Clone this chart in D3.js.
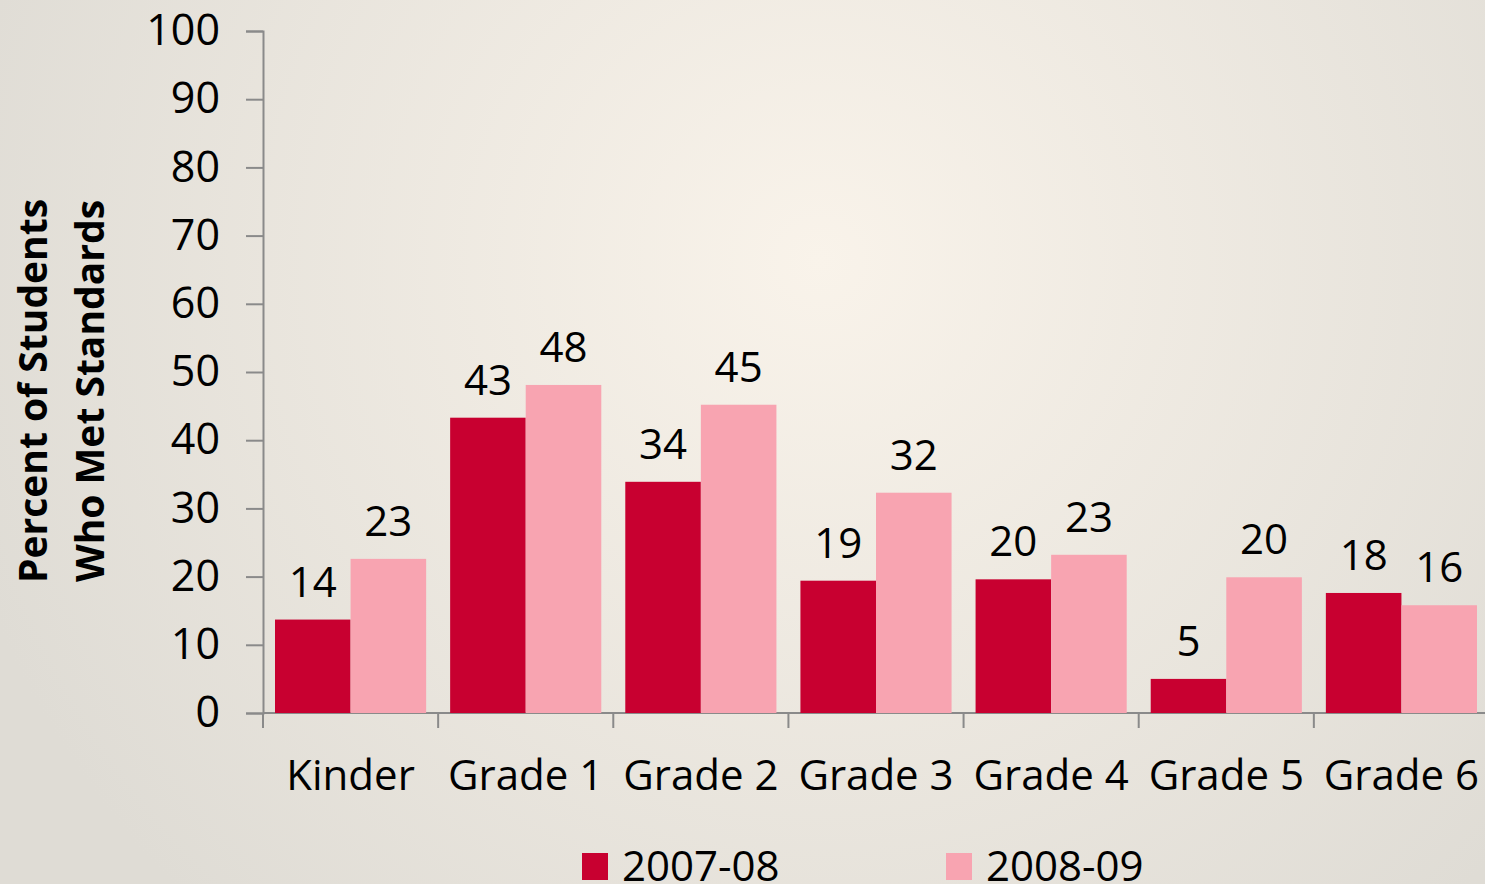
<!DOCTYPE html>
<html><head><meta charset="utf-8">
<script src="https://cdn.jsdelivr.net/npm/d3@7"></script>
<style>html,body{margin:0;padding:0;overflow:hidden;}svg{display:block;}</style>
</head><body>
<script>
const categories = ["Kinder","Grade 1","Grade 2","Grade 3","Grade 4","Grade 5","Grade 6"];
const seriesNames = ["2007-08","2008-09"];
const values2007 = [13.7, 43.3, 33.9, 19.4, 19.6, 5.0, 17.6];
const values2008 = [22.6, 48.1, 45.2, 32.3, 23.2, 19.9, 15.8];
const yTicks = [0,10,20,30,40,50,60,70,80,90,100];
const colors = ["#c80030","#f8a4b1"];

(function(){
const W = 1485, H = 884;
const svg = d3.select("body").append("svg").attr("width", W).attr("height", H);
const defs = svg.append("defs");
const grad = defs.append("radialGradient").attr("id","bg")
  .attr("gradientUnits","userSpaceOnUse").attr("cx",820).attr("cy",260).attr("r",900);
grad.append("stop").attr("offset","0%").attr("stop-color","#f9f3ea");
grad.append("stop").attr("offset","100%").attr("stop-color","#dfdcd5");
svg.append("rect").attr("width",W).attr("height",H).attr("fill","url(#bg)");

const font = "'Open Sans', sans-serif";
const mL = 263, mR = 1489, mT = 31, mB = 713;
const y = d3.scaleLinear().domain([0,100]).range([mB, mT]);
const pin = 24/175.1;
const x = d3.scaleBand().domain(categories).range([mL, mR]).paddingInner(pin).paddingOuter(pin/2);
const xs = d3.scaleBand().domain(seriesNames).range([0, x.bandwidth()]);

// Y axis
const yAxis = svg.append("g").attr("transform",`translate(${mL},0)`)
  .call(d3.axisLeft(y).tickValues(yTicks).tickSize(17).tickPadding(26));
yAxis.select(".domain").attr("stroke","#8a8a8a").attr("stroke-width",2);
yAxis.selectAll(".tick line").attr("stroke","#8a8a8a").attr("stroke-width",2);
yAxis.selectAll(".tick text").attr("font-family",font).attr("font-size",43).attr("fill","#000");

// X axis line + ticks at band boundaries
const step = x.step();
const g = svg.append("g");
g.append("line").attr("x1",mL).attr("x2",mR).attr("y1",mB).attr("y2",mB)
  .attr("stroke","#8a8a8a").attr("stroke-width",2);
const bounds = d3.range(categories.length + 1).map(i => mL + i*step);
g.selectAll("line.t").data(bounds).join("line").attr("class","t")
  .attr("x1",d=>d).attr("x2",d=>d).attr("y1",mB).attr("y2",mB+15)
  .attr("stroke","#8a8a8a").attr("stroke-width",2);
g.selectAll("text.cat").data(categories).join("text").attr("class","cat")
  .attr("x",d=>x(d)+x.bandwidth()/2).attr("y",790)
  .attr("text-anchor","middle").attr("font-family",font).attr("font-size",42).attr("fill","#000")
  .text(d=>d);

// Bars
const data = categories.map((c,i)=>({c, vals:[values2007[i], values2008[i]]}));
const fmt = d3.format(".0f");
const groups = svg.append("g").selectAll("g").data(data).join("g")
  .attr("transform",d=>`translate(${x(d.c)},0)`);
groups.selectAll("rect").data(d=>d.vals.map((v,j)=>({v, s:seriesNames[j], j})))
  .join("rect")
  .attr("x",d=>xs(d.s)).attr("width",xs.bandwidth())
  .attr("y",d=>y(d.v)).attr("height",d=>y(0)-y(d.v))
  .attr("fill",d=>colors[d.j]);
groups.selectAll("text").data(d=>d.vals.map((v,j)=>({v, s:seriesNames[j], j})))
  .join("text")
  .attr("x",d=>xs(d.s)+xs.bandwidth()/2).attr("y",d=>y(d.v)-23)
  .attr("text-anchor","middle").attr("font-family",font).attr("font-size",42).attr("fill","#000")
  .text(d=>fmt(d.v));

// Y axis title
const yt = svg.append("text").attr("transform","translate(0,391) rotate(-90)")
  .attr("text-anchor","middle").attr("font-family",font).attr("font-weight","bold")
  .attr("font-size",39).attr("fill","#000");
yt.append("tspan").attr("x",0).attr("y",47).text("Percent of Students");
yt.append("tspan").attr("x",0).attr("y",104).text("Who Met Standards");

// Legend
const legX = [582, 946];
const leg = svg.append("g").selectAll("g").data(seriesNames).join("g")
  .attr("transform",(d,i)=>`translate(${legX[i]},853)`);
leg.append("rect").attr("width",26).attr("height",27).attr("fill",(d,i)=>colors[i]);
leg.append("text").attr("x",40).attr("y",28).attr("font-family",font).attr("font-size",42)
  .attr("fill","#000").text(d=>d);
})();
</script>
</body></html>
